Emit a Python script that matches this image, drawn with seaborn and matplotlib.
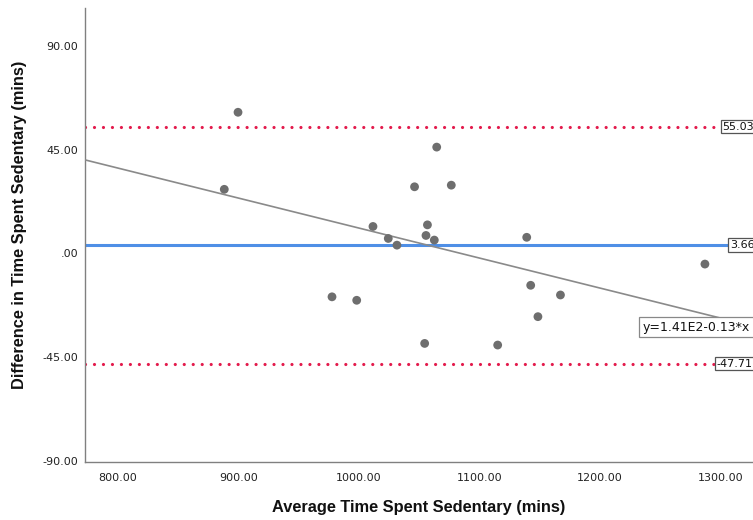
import matplotlib
matplotlib.use("Agg")
import matplotlib.pyplot as plt
import seaborn as sns
import pandas as pd
import numpy as np

# ---- data ----
avg_time = [899.6, 888.2, 1011.6, 1024.3, 1031.5, 1046.1, 1064.5, 1056.8, 1055.6, 1062.5,
            1076.6, 1139.2, 977.6, 998.1, 1054.5, 1115.1, 1142.5, 1167.2, 1148.5, 1287.1]
diff_time = [61.2, 27.8, 11.7, 6.5, 3.6, 28.9, 46.1, 12.4, 7.8, 5.8,
             29.6, 7.0, -18.8, -20.3, -39.0, -39.7, -13.8, -18.0, -27.4, -4.6]
mean_diff = 3.66
upper_loa = 55.03
lower_loa = -47.71
fit_intercept = 141.0
fit_slope = -0.13
fit_label = "y=1.41E2-0.13*x"
x_ticks = [800, 900, 1000, 1100, 1200, 1300]
x_tick_labels = ["800.00", "900.00", "1000.00", "1100.00", "1200.00", "1300.00"]
y_ticks = [-90, -45, 0, 45, 90]
y_tick_labels = ["-90.00", "-45.00", ".00", "45.00", "90.00"]
x_title = "Average Time Spent Sedentary (mins)"
y_title = "Difference in Time Spent Sedentary (mins)"

df = pd.DataFrame({"avg": avg_time, "diff": diff_time})

sns.set_style("white")
plt.rcParams["font.family"] = ["DejaVu Sans"]

W, H = 753, 520
fig = plt.figure(figsize=(W / 100, H / 100), dpi=100)
ax = fig.add_axes([85 / W, (H - 462) / H, (753 - 85) / W, (462 - 8) / H])

xlim = (772.6, 1327.0)
ylim = (-90.4, 106.4)

# reference lines
ax.axhline(upper_loa, color="#E31A4C", lw=2.3, linestyle=(0, (0.01, 2.8)),
           dash_capstyle="round", zorder=2)
ax.axhline(lower_loa, color="#E31A4C", lw=2.3, linestyle=(0, (0.01, 2.8)),
           dash_capstyle="round", zorder=2)
ax.axhline(mean_diff, color="#4F8FE6", lw=2.2, zorder=2)

# fit line
xs = np.array(xlim)
ax.plot(xs, fit_intercept + fit_slope * xs, color="#8a8a8a", lw=1.2, zorder=3)

sns.scatterplot(data=df, x="avg", y="diff", ax=ax, color="#6E6E6E", s=40,
                edgecolor="none", zorder=4, legend=False)

ax.set_xlim(*xlim)
ax.set_ylim(*ylim)

ax.set_xticks(x_ticks)
ax.set_xticklabels(x_tick_labels)
ax.set_yticks(y_ticks)
ax.set_yticklabels(y_tick_labels)
ax.tick_params(axis="both", length=0, labelsize=8, colors="#222222")
ax.tick_params(axis="x", pad=8)
ax.tick_params(axis="y", pad=5)

for s in ["top", "right"]:
    ax.spines[s].set_visible(False)
for s in ["left", "bottom"]:
    ax.spines[s].set_color("#808080")
    ax.spines[s].set_linewidth(1.0)

lab_font = dict(fontsize=11.8, fontweight="bold", family=["Liberation Sans", "DejaVu Sans"],
                color="#111111")
ax.set_xlabel(x_title, **lab_font, labelpad=12)
ax.set_ylabel(y_title, **lab_font, labelpad=11)
ax.yaxis.label.set_y(0.522)

box = dict(boxstyle="square,pad=0.15", facecolor="white", edgecolor="#555555", lw=0.9)
for val, xpos in [(upper_loa, 1301.8), (mean_diff, 1307.9), (lower_loa, 1296.8)]:
    ax.text(xpos, val, f"{val:.2f}", fontsize=8, ha="left", va="center",
            bbox=box, zorder=6, clip_on=False, color="#111111")

ax.text(1235.5, -31.9, fit_label, fontsize=9, ha="left", va="center", zorder=6,
        clip_on=False, color="#111111",
        bbox=dict(boxstyle="square,pad=0.3", facecolor="white", edgecolor="#888888", lw=0.9))

fig.savefig("out.png", dpi=100)
